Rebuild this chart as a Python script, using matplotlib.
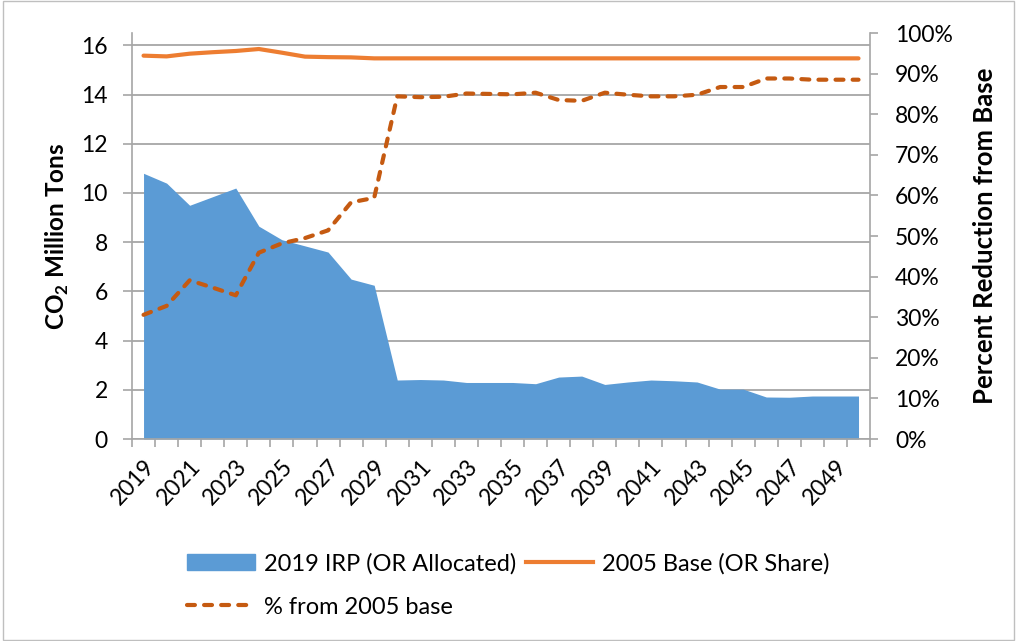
import matplotlib.pyplot as plt
import matplotlib.patches as mpatches
from matplotlib.ticker import FixedLocator, FuncFormatter

plt.rcParams["font.family"] = ["Lato", "DejaVu Sans"]
plt.rcParams["mathtext.fontset"] = "custom"
plt.rcParams["mathtext.rm"] = "Lato:bold"
plt.rcParams["mathtext.bf"] = "Lato:bold"

years = list(range(2019, 2051))
irp_allocated = [10.8, 10.4, 9.5, 9.85, 10.2, 8.65, 8.1, 7.85, 7.6, 6.5, 6.25,
                 2.4, 2.42, 2.4, 2.3, 2.3, 2.3, 2.25, 2.52, 2.56, 2.22, 2.32,
                 2.4, 2.37, 2.32, 2.03, 2.03, 1.71, 1.7, 1.75, 1.75, 1.75]
base_2005 = [15.58, 15.55, 15.66, 15.72, 15.77, 15.85, 15.7, 15.54, 15.52, 15.51, 15.47,
             15.47, 15.47, 15.47, 15.47, 15.47, 15.47, 15.47, 15.47, 15.47, 15.47, 15.47,
             15.47, 15.47, 15.47, 15.47, 15.47, 15.47, 15.47, 15.47, 15.47, 15.47]
pct_from_base = [30.6, 32.8, 39.1, 37.3, 35.4, 45.9, 48.2, 49.5, 51.4, 58.3, 59.4,
                 84.4, 84.2, 84.3, 85.1, 85.0, 84.9, 85.3, 83.5, 83.3, 85.3, 84.8,
                 84.4, 84.4, 84.8, 86.7, 86.7, 88.8, 88.8, 88.5, 88.5, 88.5]

blue = "#5B9BD5"
orange = "#ED7D31"
dark_orange = "#C55A11"
grid_gray = "#A6A6A6"
dash = (0, (1.9, 2.2))

fig = plt.figure(figsize=(10.17, 6.41), dpi=100)
ax = fig.add_axes([0.1298, 0.315, 0.7257, 0.6335])
ax2 = ax.twinx()

x = list(range(len(years)))
ax.fill_between(x, irp_allocated, 0, color=blue, lw=0, zorder=2)
ax.plot(x, base_2005, color=orange, lw=3, zorder=3, solid_capstyle="round")
ax2.plot(x, pct_from_base, color=dark_orange, lw=3, ls=dash,
         dash_capstyle="round", zorder=3)

ax.set_xlim(-0.5, len(years) - 0.5)
ax.set_ylim(0, 16.5)
ax.set_yticks(range(0, 17, 2))
ax2.set_ylim(0, 100)
ax2.set_yticks(range(0, 101, 10))
ax2.yaxis.set_major_formatter(FuncFormatter(lambda v, p: f"{int(v)}%"))

ax.yaxis.grid(True, color=grid_gray, lw=1.3)
ax.set_axisbelow(True)

ax.set_xticks(x[::2])
ax.set_xticklabels([str(y) for y in years[::2]], rotation=47, ha="right",
                   rotation_mode="anchor")
ax.xaxis.set_minor_locator(FixedLocator([i - 0.5 for i in range(len(years) + 1)]))
ax.tick_params(axis="x", which="major", length=0, pad=12)
ax.tick_params(axis="x", which="minor", length=6, color=grid_gray, width=1.2)
ax.tick_params(axis="y", length=6.5, color=grid_gray, width=1.2, pad=11)
ax2.tick_params(axis="y", length=6, color=grid_gray, width=1.2, pad=12)
for a in (ax, ax2):
    a.tick_params(labelsize=16.5, labelcolor="black")
    for s in a.spines.values():
        s.set_visible(False)
for a, side in ((ax, "left"), (ax, "bottom"), (ax2, "right")):
    a.spines[side].set_visible(True)
    a.spines[side].set_color(grid_gray)
    a.spines[side].set_linewidth(1.2)

ax.set_ylabel(r"CO$_2$ Million Tons", fontsize=17.5, fontweight="bold")
ax.yaxis.set_label_coords(-0.082, 0.5)
ax2.set_ylabel("Percent Reduction from Base", fontsize=18.5, fontweight="bold",
               rotation=90)
ax2.yaxis.set_label_coords(1.139, 0.5)

h1 = mpatches.Patch(color=blue, label="2019 IRP (OR Allocated)")
h2 = plt.Line2D([], [], color=orange, lw=3, label="2005 Base (OR Share)")
h3 = plt.Line2D([], [], color=dark_orange, lw=3, ls=dash, dash_capstyle="round",
                label="% from 2005 base")
fig.legend(handles=[h1, h3, h2], loc="center", bbox_to_anchor=(0.5, 0.087), ncol=2,
           frameon=False, fontsize=17, handlelength=2.85, handletextpad=0.38,
           columnspacing=0.42, labelspacing=0.95)

fig.patches.append(mpatches.Rectangle((0.003, 0.002), 0.994, 0.996, transform=fig.transFigure,
                                      fill=False, edgecolor="#BFBFBF", lw=1))

fig.savefig("out.png", dpi=100)
